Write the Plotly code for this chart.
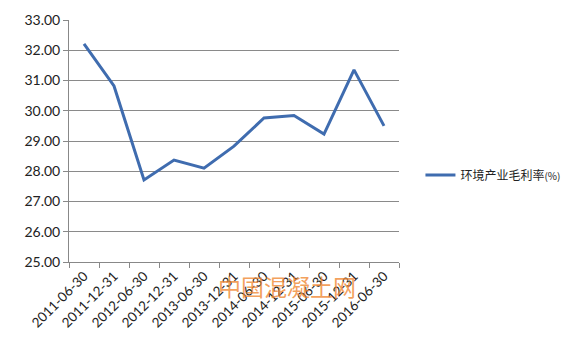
import plotly.graph_objects as go

dates = ["2011-06-30", "2011-12-31", "2012-06-30", "2012-12-31", "2013-06-30",
         "2013-12-31", "2014-06-30", "2014-12-31", "2015-06-30", "2015-12-31", "2016-06-30"]
margin_pct = [32.21, 30.82, 27.71, 28.37, 28.10, 28.83, 29.76, 29.84, 29.23, 31.35, 29.50]
series_name = "环境产业毛利率<span style='font-size:10px'>(%)</span>"
y_ticks = [25, 26, 27, 28, 29, 30, 31, 32, 33]

fig = go.Figure()
fig.add_trace(go.Scatter(
    x=dates, y=margin_pct, mode="lines", name=series_name,
    line=dict(color="#3F6CAF", width=3),
))

fig.update_layout(
    width=577, height=351,
    margin=dict(l=69, r=176, t=20, b=89),
    paper_bgcolor="white", plot_bgcolor="white",
    font=dict(family="Lato, 'Noto Sans CJK SC', sans-serif", color="#222"),
    showlegend=True,
    legend=dict(x=1.065, y=0.36, xanchor="left", yanchor="middle",
                font=dict(size=12, family="'Noto Sans CJK SC', sans-serif", color="#222"),
                bgcolor="rgba(0,0,0,0)", itemwidth=30),
    xaxis=dict(type="category", tickangle=-45, tickfont=dict(size=13.5),
               showline=True, linecolor="#888", linewidth=1,
               ticks="outside", ticklen=5, tickcolor="#888", tickson="boundaries",
               showgrid=False, range=[-0.5, 10.5]),
    yaxis=dict(range=[25, 33], tickvals=y_ticks, tickformat=".2f",
               tickfont=dict(size=14),
               showline=True, linecolor="#888", linewidth=1,
               ticks="outside", ticklen=5, tickcolor="#888",
               showgrid=True, gridcolor="#8a8a8a", gridwidth=1, zeroline=False),
    annotations=[dict(text="中国混凝土网", xref="paper", yref="paper",
                      x=0.66, y=-0.178, showarrow=False,
                      font=dict(size=23, color="rgba(240,135,50,0.8)",
                                family="'Noto Sans CJK SC', sans-serif"))],
)

fig.write_html("out.html")
